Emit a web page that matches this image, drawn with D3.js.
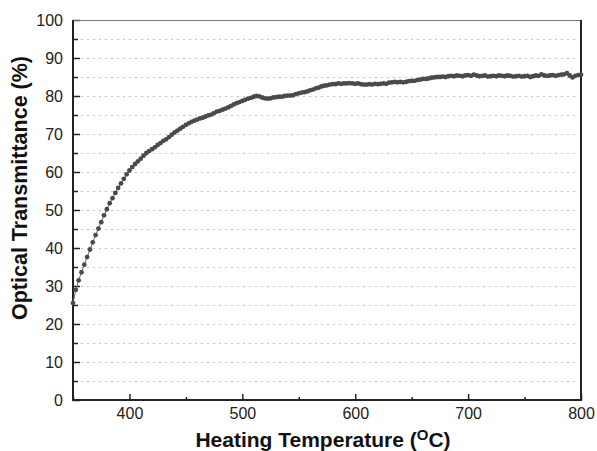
<!DOCTYPE html>
<html>
<head>
<meta charset="utf-8">
<script src="https://cdn.jsdelivr.net/npm/d3@7"></script>
<style>
html,body{margin:0;padding:0;background:#fff;}
svg{display:block;}
</style>
</head>
<body>
<svg id="chart" width="597" height="451"></svg>
<script>
const temperatures = [
350,352.5,355,357.5,360,362.5,365,367.5,370,372.5,375,377.5,380,382.5,385,387.5,390,392.5,395,397.5,
400,402.5,405,407.5,410,412.5,415,417.5,420,422.5,425,427.5,430,432.5,435,437.5,440,442.5,445,447.5,
450,452.5,455,457.5,460,462.5,465,467.5,470,472.5,475,477.5,480,482.5,485,487.5,490,492.5,495,497.5,
500,502.5,505,507.5,510,512.5,515,517.5,520,522.5,525,527.5,530,532.5,535,537.5,540,542.5,545,547.5,
550,552.5,555,557.5,560,562.5,565,567.5,570,572.5,575,577.5,580,582.5,585,587.5,590,592.5,595,597.5,
600,602.5,605,607.5,610,612.5,615,617.5,620,622.5,625,627.5,630,632.5,635,637.5,640,642.5,645,647.5,
650,652.5,655,657.5,660,662.5,665,667.5,670,672.5,675,677.5,680,682.5,685,687.5,690,692.5,695,697.5,
700,702.5,705,707.5,710,712.5,715,717.5,720,722.5,725,727.5,730,732.5,735,737.5,740,742.5,745,747.5,
750,752.5,755,757.5,760,762.5,765,767.5,770,772.5,775,777.5,780,782.5,785,787.5,790,792.5,795,797.5,
800];
const transmittance = [
25.5,29.0,31.5,33.6,35.6,37.6,39.6,41.5,43.4,45.1,46.8,48.6,50.2,51.8,53.1,54.5,55.8,57.0,58.2,59.4,
60.4,61.3,62.1,62.8,63.5,64.3,65.0,65.5,66.0,66.5,67.1,67.6,68.2,68.6,69.2,69.8,70.4,70.9,71.4,71.9,
72.4,72.8,73.2,73.5,73.8,74.1,74.3,74.6,74.9,75.1,75.5,75.9,76.1,76.4,76.7,77.0,77.4,77.8,78.1,78.4,
78.7,79.0,79.3,79.5,79.8,80.0,79.9,79.6,79.4,79.3,79.4,79.6,79.7,79.8,79.8,80.0,80.1,80.1,80.2,80.5,
80.7,80.9,81.0,81.2,81.5,81.7,82.0,82.2,82.5,82.7,82.8,83.0,83.1,83.1,83.3,83.2,83.3,83.3,83.4,83.3,
83.2,83.3,83.1,83.0,83.0,83.1,83.0,83.2,83.1,83.2,83.3,83.2,83.5,83.6,83.7,83.6,83.7,83.6,83.7,83.9,
84.0,84.0,84.2,84.3,84.5,84.5,84.6,84.8,84.9,85.0,85.0,85.1,85.0,85.2,85.3,85.2,85.4,85.3,85.2,85.4,
85.5,85.3,85.6,85.4,85.2,85.3,85.4,85.1,85.2,85.3,85.2,85.4,85.3,85.2,85.4,85.3,85.1,85.2,85.3,85.1,
85.2,85.3,85.0,85.2,85.4,85.3,85.7,85.4,85.3,85.4,85.5,85.3,85.5,85.6,85.7,86.0,85.4,84.9,85.3,85.5,
85.6];
const xTicks = [400,500,600,700,800];
const xMinorTicks = [350,450,550,650,750];
const yTicks = [0,10,20,30,40,50,60,70,80,90,100];
const yMinorTicks = [5,15,25,35,45,55,65,75,85,95];
const xTitle = "Heating Temperature (";
const xTitleSup = "O";
const xTitleEnd = "C)";
const yTitle = "Optical Transmittance (%)";

const svg = d3.select("#chart");
const L = 73, R = 581, T = 20, B = 400;
const x = d3.scaleLinear().domain([350,800]).range([L,R]);
const y = d3.scaleLinear().domain([0,100]).range([B,T]);
const data = temperatures.map((t,i)=>({t, v: transmittance[i]}));

// grid
svg.append("g").selectAll("line").data(yTicks.concat(yMinorTicks).filter(d=>d>0&&d<100))
  .join("line")
  .attr("x1",L+2).attr("x2",R-2)
  .attr("y1",d=>Math.round(y(d))+0.5).attr("y2",d=>Math.round(y(d))+0.5)
  .attr("stroke","#c4c4c4").attr("stroke-width",1).attr("stroke-dasharray","2,4");

// axes
const fontFam = "Liberation Sans, Arial, Helvetica, sans-serif";
const gx = svg.append("g").attr("transform",`translate(0,${B})`)
  .call(d3.axisBottom(x).tickValues(xTicks).tickSize(-6).tickPadding(8).tickFormat(d3.format("d")));
const gxm = svg.append("g").attr("transform",`translate(0,${B})`)
  .call(d3.axisBottom(x).tickValues(xMinorTicks).tickSize(-3).tickFormat(""));
const gy = svg.append("g").attr("transform",`translate(${L},0)`)
  .call(d3.axisLeft(y).tickValues(yTicks).tickSize(-7).tickPadding(10).tickFormat(d3.format("d")));
const gym = svg.append("g").attr("transform",`translate(${L},0)`)
  .call(d3.axisLeft(y).tickValues(yMinorTicks).tickSize(-5).tickFormat(""));
[gx,gxm,gy,gym].forEach(g=>{
  g.select(".domain").remove();
  g.selectAll(".tick line").attr("stroke","#222").attr("stroke-width",1.5);
  g.selectAll("text").attr("font-family",fontFam).attr("font-size",16).attr("fill","#222");
});

// frame
svg.append("line").attr("x1",L).attr("x2",R).attr("y1",T+0.5).attr("y2",T+0.5).attr("stroke","#777").attr("stroke-width",1);
svg.append("line").attr("x1",R).attr("x2",R).attr("y1",T).attr("y2",B+1).attr("stroke","#222").attr("stroke-width",2);
svg.append("line").attr("x1",L).attr("x2",L).attr("y1",T).attr("y2",B+1).attr("stroke","#222").attr("stroke-width",2);
svg.append("line").attr("x1",L-1).attr("x2",R+1).attr("y1",B).attr("y2",B).attr("stroke","#222").attr("stroke-width",2);

// data
svg.append("path").datum(data)
  .attr("fill","none").attr("stroke","#666").attr("stroke-width",1)
  .attr("d",d3.line().x(d=>x(d.t)).y(d=>y(d.v)));
svg.append("g").selectAll("circle").data(data).join("circle")
  .attr("cx",d=>x(d.t)).attr("cy",d=>y(d.v)).attr("r",2.4)
  .attr("fill","#4a4a4a");

// titles
const xt = svg.append("text").attr("x",323).attr("y",447)
  .attr("text-anchor","middle").attr("font-family",fontFam)
  .attr("font-weight","bold").attr("font-size",21).attr("fill","#111");
xt.append("tspan").text(xTitle);
xt.append("tspan").attr("dy",-7).attr("font-size",15).text(xTitleSup);
xt.append("tspan").attr("dy",7).text(xTitleEnd);

svg.append("text").attr("transform",`translate(27,188) rotate(-90)`)
  .attr("text-anchor","middle").attr("font-family",fontFam)
  .attr("font-weight","bold").attr("font-size",21.5).attr("fill","#111")
  .text(yTitle);
</script>
</body>
</html>
